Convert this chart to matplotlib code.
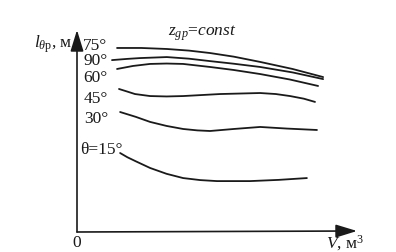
import matplotlib
matplotlib.use("Agg")
import matplotlib.pyplot as plt

plt.rcParams['font.family'] = ['Liberation Serif', 'DejaVu Serif']
plt.rcParams['mathtext.fontset'] = 'custom'
plt.rcParams['mathtext.rm'] = 'Liberation Serif'
plt.rcParams['mathtext.it'] = 'Liberation Serif:italic'

# Curves (arbitrary units, no ticks in original)
v75 = [1.43, 2.3, 3.21, 4.0, 4.75, 5.6, 6.54, 7.7, 8.79]
l75 = [9.11, 9.11, 9.06, 8.98, 8.86, 8.68, 8.42, 8.07, 7.67]
v90 = [1.25, 1.8, 2.25, 3.21, 4.0, 4.75, 5.6, 6.54, 7.7, 8.79]
l90 = [8.51, 8.57, 8.61, 8.66, 8.58, 8.46, 8.33, 8.17, 7.9, 7.57]
v60 = [1.43, 2.0, 2.61, 3.2, 3.79, 4.75, 5.6, 6.54, 7.6, 8.61]
l60 = [8.07, 8.22, 8.32, 8.34, 8.32, 8.17, 8.02, 7.82, 7.55, 7.23]
v45 = [1.5, 1.8, 2.07, 2.61, 3.2, 3.79, 5.11, 6.54, 7.1, 7.61, 8.1, 8.5]
l45 = [7.08, 6.95, 6.83, 6.73, 6.71, 6.73, 6.83, 6.88, 6.83, 6.73, 6.6, 6.44]
v30 = [1.54, 2.1, 2.61, 3.2, 3.79, 4.3, 4.75, 5.6, 6.54, 7.5, 8.57]
l30 = [5.94, 5.7, 5.45, 5.25, 5.1, 5.03, 5.0, 5.1, 5.2, 5.12, 5.05]
v15 = [1.54, 1.8, 2.1, 2.61, 3.2, 3.79, 4.4, 5.0, 6.18, 7.2, 8.21]
l15 = [3.91, 3.7, 3.5, 3.17, 2.88, 2.67, 2.57, 2.52, 2.52, 2.58, 2.67]
angle_labels = ["75°", "90°", "60°", "45°", "30°", "θ=15°"]
label_y = [9.2, 8.45, 7.6, 6.6, 5.6, 4.05]
label_x = [0.22, 0.22, 0.22, 0.25, 0.25, 0.12]

fig = plt.figure(figsize=(3.96, 2.52), dpi=100)
ax = fig.add_axes([77/396, 20/252, 280/396, 202/252])
ax.set_xlim(0, 10)
ax.set_ylim(0, 10)
ax.axis('off')

for v, l in [(v75, l75), (v90, l90), (v60, l60), (v45, l45), (v30, l30), (v15, l15)]:
    ax.plot(v, l, color='#1a1a1a', lw=1.3, solid_capstyle='round', solid_joinstyle='round')

ap = dict(arrowstyle='-|>,head_length=1.3,head_width=0.4', color='#1a1a1a', lw=1.2, shrinkA=0, shrinkB=0)
ax.annotate('', xy=(0, 1.0), xytext=(0, 0), xycoords='axes fraction', arrowprops=ap)
ax.annotate('', xy=(1.0, 0.005), xytext=(0, 0), xycoords='axes fraction', arrowprops=ap)

fs = 12.5
for t, x, y in zip(angle_labels, label_x, label_y):
    ax.text(x, y, t, fontsize=fs, ha='left', va='center', color='#1a1a1a')

ax.text(-0.15, 9.3, r"$l_{\theta\mathrm{р}}$, м", fontsize=fs, ha='right', va='center', color='#1a1a1a')
ax.text(3.25, 9.85, r"$z_{gp}$=$const$", fontsize=fs, ha='left', va='center', color='#1a1a1a')
ax.text(0, -0.15, "0", fontsize=fs, ha='center', va='top', color='#1a1a1a')
ax.text(8.9, -0.05, r"$V$, м$^3$", fontsize=fs, ha='left', va='top', color='#1a1a1a')

fig.savefig("out.png", dpi=100, facecolor='white')
